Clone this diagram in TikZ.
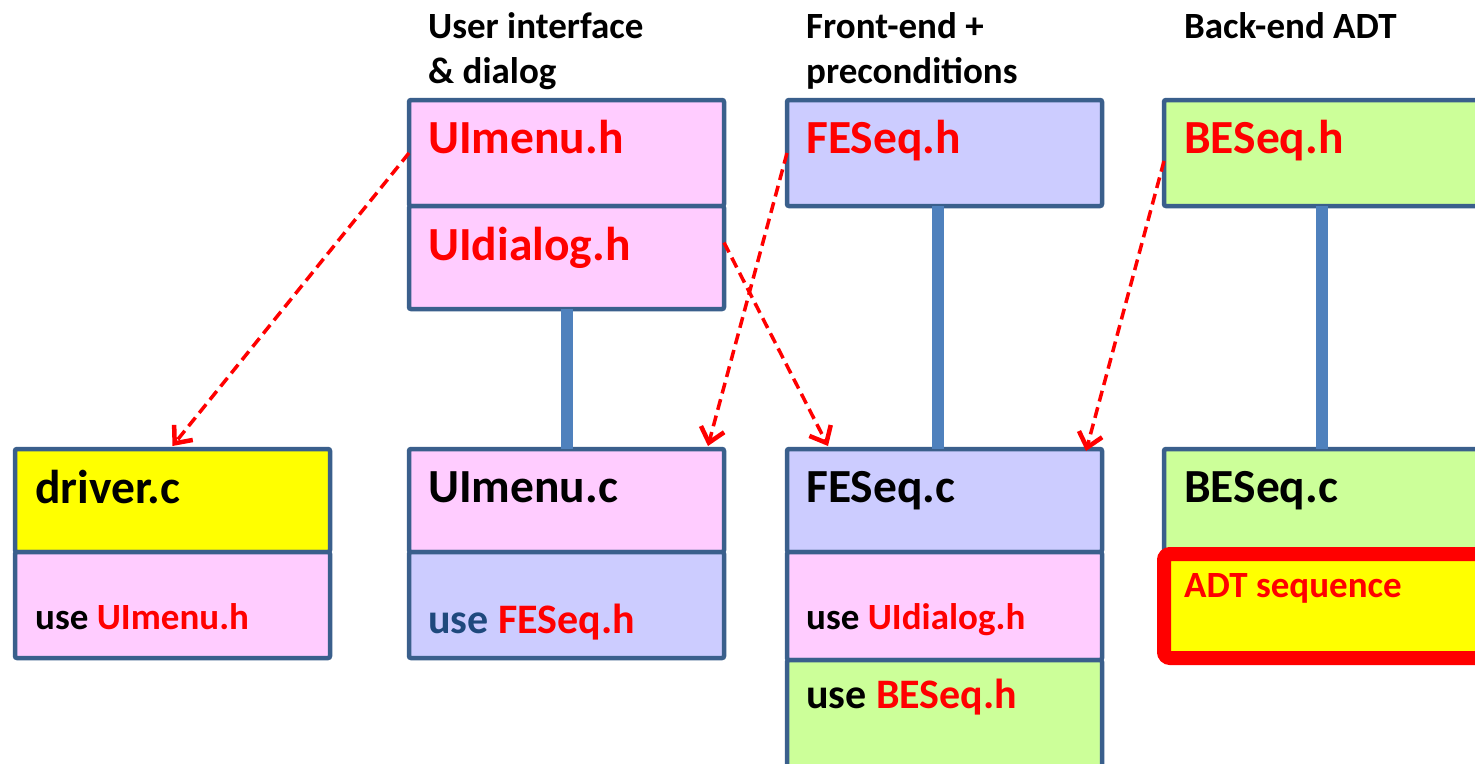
\documentclass[tikz,border=0pt]{standalone}
\usepackage{fontspec}
\setmainfont{Carlito}
\usetikzlibrary{arrows.meta,calc}
\definecolor{pinkf}{HTML}{FFCCFF}
\definecolor{lavf}{HTML}{CCCCFF}
\definecolor{greenf}{HTML}{CCFF99}
\definecolor{yelf}{HTML}{FFFF00}
\definecolor{bordc}{HTML}{3A5F8C}
\definecolor{connc}{HTML}{4F81BD}
\definecolor{redc}{HTML}{FF0000}
\definecolor{usedark}{HTML}{1F497D}
\begin{document}
\begin{tikzpicture}[x=1pt,y=-1pt,
  box/.style={draw=bordc, line width=4.5pt, rounded corners=2pt, anchor=north west,
    minimum width=315pt, inner sep=0pt, outer sep=0pt},
  big/.style={anchor=base west, inner sep=0pt, font=\bfseries\fontsize{47.5}{50}\selectfont},
  mid/.style={anchor=base west, inner sep=0pt, font=\bfseries\fontsize{42}{45}\selectfont},
  small/.style={anchor=base west, inner sep=0pt, font=\bfseries\fontsize{37}{40}\selectfont},
  head/.style={anchor=base west, inner sep=0pt, font=\bfseries\fontsize{37}{40}\selectfont},
  conn/.style={draw=connc, line width=12pt},
  dep/.style={draw=redc, line width=3.5pt, dash pattern=on 11pt off 6pt,
    -{Straight Barb[length=14pt,width=24pt,line width=4.5pt]}}
]
\useasboundingbox (0,0) rectangle (1475,763);
\fill[white] (0,0) rectangle (1475,763);
\clip (0,0) rectangle (1475,763);

% boxes
\node[box, fill=pinkf, minimum height=106pt] (uimenuh) at (409,100) {};
\node[box, fill=pinkf, minimum height=103pt] (uidialogh) at (409,206) {};
\node[box, fill=lavf, minimum height=106pt] (feseqh) at (787,100) {};
\node[box, fill=greenf, minimum height=106pt] (beseqh) at (1164,100) {};

\node[box, fill=yelf, minimum height=103pt] (driverc) at (15,449) {};
\node[box, fill=pinkf, minimum height=106pt] (driveruse) at (15,552) {};
\node[box, fill=pinkf, minimum height=103pt] (uimenuc) at (409,449) {};
\node[box, fill=lavf, minimum height=106pt] (uimenuuse) at (409,552) {};
\node[box, fill=lavf, minimum height=103pt] (feseqc) at (787,449) {};
\node[box, fill=pinkf, minimum height=108pt] (feuseui) at (787,552) {};
\node[box, fill=greenf, minimum height=120pt] (feusebe) at (787,660) {};
\node[box, fill=greenf, minimum height=110pt] (beseqc) at (1164,449) {};
\node[draw=redc, fill=yelf, line width=14pt, rounded corners=6pt, anchor=north west,
  minimum width=330pt, minimum height=104pt, inner sep=0pt, outer sep=0pt] (adt) at (1164,554) {};

% connectors
\draw[conn] (uidialogh.south) -- (uimenuc.north);
\draw[conn] ([xshift=-7pt]feseqh.south) -- ([xshift=-7pt]feseqc.north);
\draw[conn] (beseqh.south) -- (beseqc.north);

% headings
\node[head] (h1a) at (428,38) {User interface};
\node[head] (h1b) at (428,83) {\& dialog};
\node[head] (h2a) at (806,38) {Front-end +};
\node[head] (h2b) at (806,83) {preconditions};
\node[head] (h3) at (1184,38) {Back-end ADT};

% texts
\node[big, text=redc] (t1) at (428,153) {UImenu.h};
\node[big, text=redc] (t2) at (428,260) {UIdialog.h};
\node[big, text=redc] (t3) at (806,153) {FESeq.h};
\node[big, text=redc] (t4) at (1184,153) {BESeq.h};
\node[big] (t5) at (35,503) {driver.c};
\node[big] (t6) at (428,502) {UImenu.c};
\node[big] (t7) at (806,502) {FESeq.c};
\node[big] (t8) at (1184,502) {BESeq.c};
\node[small] (t9) at (35,629) {use \textcolor{redc}{UImenu.h}};
\node[mid, text=usedark] (t10) at (428,633) {use \textcolor{redc}{FESeq.h}};
\node[small] (t11) at (806,629) {use \textcolor{redc}{UIdialog.h}};
\node[mid] (t12) at (806,708) {use \textcolor{redc}{BESeq.h}};
\node[small, text=redc] (t13) at (1184,597) {ADT sequence};

% dependencies
\draw[dep] (uimenuh.west) -- ([yshift=3pt]driverc.north);
\draw[dep] (feseqh.west) -- ([xshift=-16pt,yshift=3pt]uimenuc.north east);
\draw[dep] ([yshift=15pt]uidialogh.east) -- ([xshift=41pt,yshift=3pt]feseqc.north west);
\draw[dep] ([yshift=-8pt]beseqh.west) -- ([xshift=-16pt,yshift=-2pt]feseqc.north east);
\end{tikzpicture}
\end{document}
